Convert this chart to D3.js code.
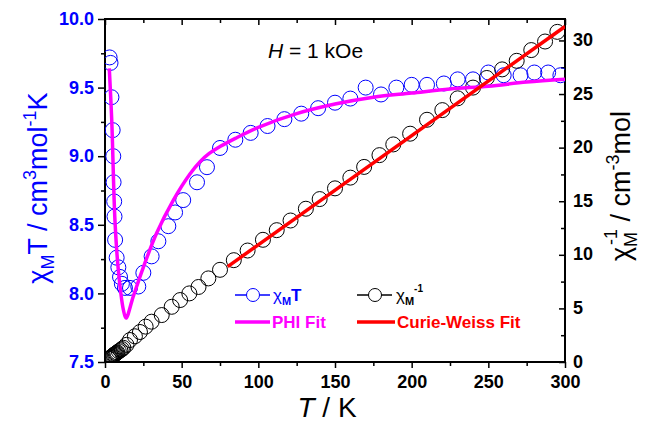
<!DOCTYPE html>
<html>
<head>
<meta charset="utf-8">
<script src="https://cdn.jsdelivr.net/npm/d3@7"></script>
<style>
  body { margin: 0; background: #fff; }
  text { font-family: "Liberation Sans", Arial, sans-serif; }
</style>
</head>
<body>
<div class="chart"></div>
<script>
// chi_M T data (left axis)
const chiT_T = [3.0, 3.6, 4.2, 5.0, 5.4, 5.6, 6.0, 6.2, 6.6, 7.6, 8.7, 9.8, 11, 13, 16.3, 21.7, 25, 30.4, 34.8, 41.3, 45.7, 51, 60, 66.5,
                75, 85, 95, 106, 117, 128, 139, 150, 160, 170, 180, 190, 200, 210, 221, 230, 240, 250, 260, 271, 280, 289, 297];
const chiT_V = [9.72, 9.68, 9.43, 9.19, 9.00, 8.81, 8.67, 8.56, 8.39, 8.26, 8.19, 8.12, 8.07, 8.04, 8.04, 8.05, 8.15, 8.27, 8.38, 8.49, 8.59, 8.68, 8.81, 8.92,
                9.06, 9.12, 9.17, 9.22, 9.27, 9.31, 9.35, 9.39, 9.42, 9.50, 9.45, 9.50, 9.52, 9.52, 9.53, 9.56, 9.56, 9.61, 9.59, 9.59, 9.61, 9.61, 9.59];

// PHI fit (left axis)
const phi_T = [2.8, 4.4, 6.5, 8.7, 12, 13.7, 18.5, 25, 33.7, 44.6, 55.4, 62, 68, 75, 85, 100, 125, 150, 175, 200, 225, 250, 275, 300];
const phi_V = [9.64, 9.26, 8.53, 8.17, 7.88, 7.82, 7.98, 8.19, 8.44, 8.68, 8.87, 8.96, 9.02, 9.07, 9.13, 9.21, 9.31, 9.38, 9.43, 9.46, 9.49, 9.51, 9.54, 9.56];

// 1/chi_M data (right axis)
const inv_T = [2.5, 3, 3.5, 4, 4.5, 5, 5.5, 6, 6.5, 7, 7.5, 8, 9, 10, 11, 12, 14, 16.3, 19.5, 22.8, 26.5, 30.4, 37, 43.5, 49, 55, 61, 67.4,
               75, 84, 93, 103, 112, 121, 131, 140, 150, 160, 169, 179, 188, 199, 210, 220, 230, 240, 249, 259, 268.5, 278, 287, 295];
const inv_V = [0.30, 0.35, 0.40, 0.45, 0.50, 0.56, 0.62, 0.68, 0.73, 0.79, 0.84, 0.90, 1.00, 1.10, 1.20, 1.32, 1.60, 2.05, 2.40, 2.80, 3.30, 3.76, 4.38, 5.15, 5.78, 6.40, 7.00, 7.80,
               8.6, 9.5, 10.4, 11.4, 12.3, 13.2, 14.3, 15.2, 16.2, 17.2, 18.2, 19.3, 20.3, 21.3, 22.6, 23.5, 24.6, 25.6, 26.5, 27.3, 28.1, 29.1, 29.9, 30.8];

// Curie-Weiss fit (right axis)
const cw_T = [80, 300];
const cw_V = [8.9, 31.3];

const xTicks = [0, 50, 100, 150, 200, 250, 300];
const leftTicks = [7.5, 8.0, 8.5, 9.0, 9.5, 10.0];
const rightTicks = [0, 5, 10, 15, 20, 25, 30];

const W = 651, H = 425;
const L = 105, R = 565, T0 = 19, B = 362;

const svg = d3.select(".chart").append("svg")
  .attr("width", W).attr("height", H);

const x = d3.scaleLinear().domain([0, 300]).range([L, R]);
const yL = d3.scaleLinear().domain([7.5, 10]).range([B, T0]);
const yR = d3.scaleLinear().domain([0, 32]).range([B, T0]);

svg.append("clipPath").attr("id", "plotclip")
  .append("rect").attr("x", L).attr("y", T0).attr("width", R - L).attr("height", B - T0);

const blue = "#0000ff";

// minor ticks helper
function minor(axis, vals, size) {
  return axis.tickValues(vals).tickSize(size).tickFormat("");
}
const xMinor = d3.range(25, 300, 50);
const leftMinor = [7.75, 8.25, 8.75, 9.25, 9.75];
const rightMinor = [2.5, 7.5, 12.5, 17.5, 22.5, 27.5];

// bottom axis
const gB = svg.append("g").attr("transform", `translate(0,${B})`);
gB.call(d3.axisBottom(x).tickValues(xTicks).tickSize(6).tickPadding(7).tickFormat(d3.format("d")));
gB.append("g").call(minor(d3.axisBottom(x), xMinor, 4));
// top axis (ticks inward)
const gT = svg.append("g").attr("transform", `translate(0,${T0})`);
gT.call(d3.axisBottom(x).tickValues(xTicks).tickSize(6).tickFormat(""));
gT.append("g").call(minor(d3.axisBottom(x), xMinor, 4));
// left axis
const gL = svg.append("g").attr("transform", `translate(${L},0)`);
gL.call(d3.axisLeft(yL).tickValues(leftTicks).tickSize(7).tickPadding(4).tickFormat(d3.format(".1f")));
gL.append("g").call(minor(d3.axisLeft(yL), leftMinor, 4));
// right axis (ticks inward)
const gR = svg.append("g").attr("transform", `translate(${R},0)`);
gR.call(d3.axisRight(yR).tickValues(rightTicks).tickSize(0).tickPadding(8).tickFormat(d3.format("d")));
gR.append("g").call(minor(d3.axisLeft(yR), rightTicks, 6));
gR.append("g").call(minor(d3.axisLeft(yR), rightMinor, 4));

svg.selectAll(".domain").remove();
svg.selectAll(".tick line").attr("stroke", "#000").attr("stroke-width", 1.5);
svg.selectAll(".tick text").attr("font-size", 18).attr("font-weight", "bold")
  .attr("font-family", "Liberation Sans, Arial, sans-serif").attr("fill", "#000");
gL.selectAll(".tick text").attr("fill", blue);
gR.selectAll(".tick text").attr("dy", "0.28em");

// frame
svg.append("rect").attr("x", L).attr("y", T0).attr("width", R - L).attr("height", B - T0)
  .attr("fill", "none").attr("stroke", "#000").attr("stroke-width", 2);

const plot = svg.append("g").attr("clip-path", "url(#plotclip)");

// blue circles
plot.selectAll("circle.ct").data(chiT_T).enter().append("circle")
  .attr("class", "ct")
  .attr("cx", d => x(d)).attr("cy", (d, i) => yL(chiT_V[i]))
  .attr("r", 7.5).attr("fill", "none").attr("stroke", blue).attr("stroke-width", 1);

// black circles
plot.selectAll("circle.inv").data(inv_T).enter().append("circle")
  .attr("class", "inv")
  .attr("cx", d => x(d)).attr("cy", (d, i) => yR(inv_V[i]))
  .attr("r", 7.5).attr("fill", "none").attr("stroke", "#000").attr("stroke-width", 1);

// PHI fit
plot.append("path")
  .datum(phi_T.map((t, i) => [t, phi_V[i]]))
  .attr("d", d3.line().x(d => x(d[0])).y(d => yL(d[1])).curve(d3.curveCatmullRom))
  .attr("fill", "none").attr("stroke", "#ff00ff").attr("stroke-width", 3.5);

// Curie-Weiss fit
plot.append("path")
  .datum(cw_T.map((t, i) => [t, cw_V[i]]))
  .attr("d", d3.line().x(d => x(d[0])).y(d => yR(d[1])))
  .attr("fill", "none").attr("stroke", "#ff0000").attr("stroke-width", 3.5);

// field label
const hl = svg.append("text").attr("x", 268).attr("y", 58).attr("font-size", 21).attr("fill", "#000");
hl.append("tspan").attr("font-style", "italic").text("H");
hl.append("tspan").text(" = 1 kOe");

// legend
function legSym(x0, y0, col) {
  svg.append("line").attr("x1", x0).attr("x2", x0 + 35).attr("y1", y0).attr("y2", y0)
    .attr("stroke", col).attr("stroke-width", 1.5);
  svg.append("circle").attr("cx", x0 + 18).attr("cy", y0).attr("r", 6.5)
    .attr("fill", "#fff").attr("stroke", col).attr("stroke-width", 1);
}
legSym(235, 295, blue);
legSym(357, 295, "#000");
const t1 = svg.append("text").attr("x", 273).attr("y", 301).attr("font-size", 17).attr("fill", blue);
t1.append("tspan").text("χ");
t1.append("tspan").attr("font-size", 11).attr("font-weight", "bold").attr("dy", 4).text("M");
t1.append("tspan").attr("dy", -4).attr("font-weight", "bold").text("T");
const t2 = svg.append("text").attr("x", 396).attr("y", 301).attr("font-size", 17).attr("fill", "#000");
t2.append("tspan").text("χ");
t2.append("tspan").attr("font-size", 11).attr("font-weight", "bold").attr("dy", 4).text("M");
t2.append("tspan").attr("font-size", 10).attr("font-weight", "bold").attr("dy", -13).text("-1");

svg.append("line").attr("x1", 235).attr("x2", 270).attr("y1", 322).attr("y2", 322)
  .attr("stroke", "#ff00ff").attr("stroke-width", 3.5);
svg.append("text").attr("x", 272).attr("y", 328).attr("font-size", 17).attr("font-weight", "bold")
  .attr("fill", "#ff00ff").text("PHI Fit");
svg.append("line").attr("x1", 357).attr("x2", 395).attr("y1", 322).attr("y2", 322)
  .attr("stroke", "#ff0000").attr("stroke-width", 3.5);
svg.append("text").attr("x", 397).attr("y", 328).attr("font-size", 17).attr("font-weight", "bold")
  .attr("fill", "#ff0000").text("Curie-Weiss Fit");

// axis titles
const xl = svg.append("text").attr("x", 327).attr("y", 417).attr("text-anchor", "middle")
  .attr("font-size", 28).attr("fill", "#000");
xl.append("tspan").attr("font-style", "italic").text("T");
xl.append("tspan").text(" / K");

const ll = svg.append("text").attr("transform", "translate(47,188) rotate(-90)")
  .attr("text-anchor", "middle").attr("font-size", 27).attr("fill", blue);
ll.append("tspan").text("χ");
ll.append("tspan").attr("font-size", 18).attr("dy", 7).text("M");
ll.append("tspan").attr("dy", -7).text("T / cm");
ll.append("tspan").attr("font-size", 18).attr("dy", -11).text("3");
ll.append("tspan").attr("dy", 11).text("mol");
ll.append("tspan").attr("font-size", 18).attr("dy", -11).text("-1");
ll.append("tspan").attr("dy", 11).text("K");

const rl = svg.append("text").attr("transform", "translate(630,186) rotate(-90)")
  .attr("text-anchor", "middle").attr("font-size", 27).attr("fill", "#000");
rl.append("tspan").text("χ");
rl.append("tspan").attr("font-size", 18).attr("dy", 7).text("M");
rl.append("tspan").attr("font-size", 18).attr("dy", -20).attr("dx", -13).text("-1");
rl.append("tspan").attr("dy", 13).text(" / cm");
rl.append("tspan").attr("font-size", 18).attr("dy", -11).text("-3");
rl.append("tspan").attr("dy", 11).text("mol");
</script>
</body>
</html>
